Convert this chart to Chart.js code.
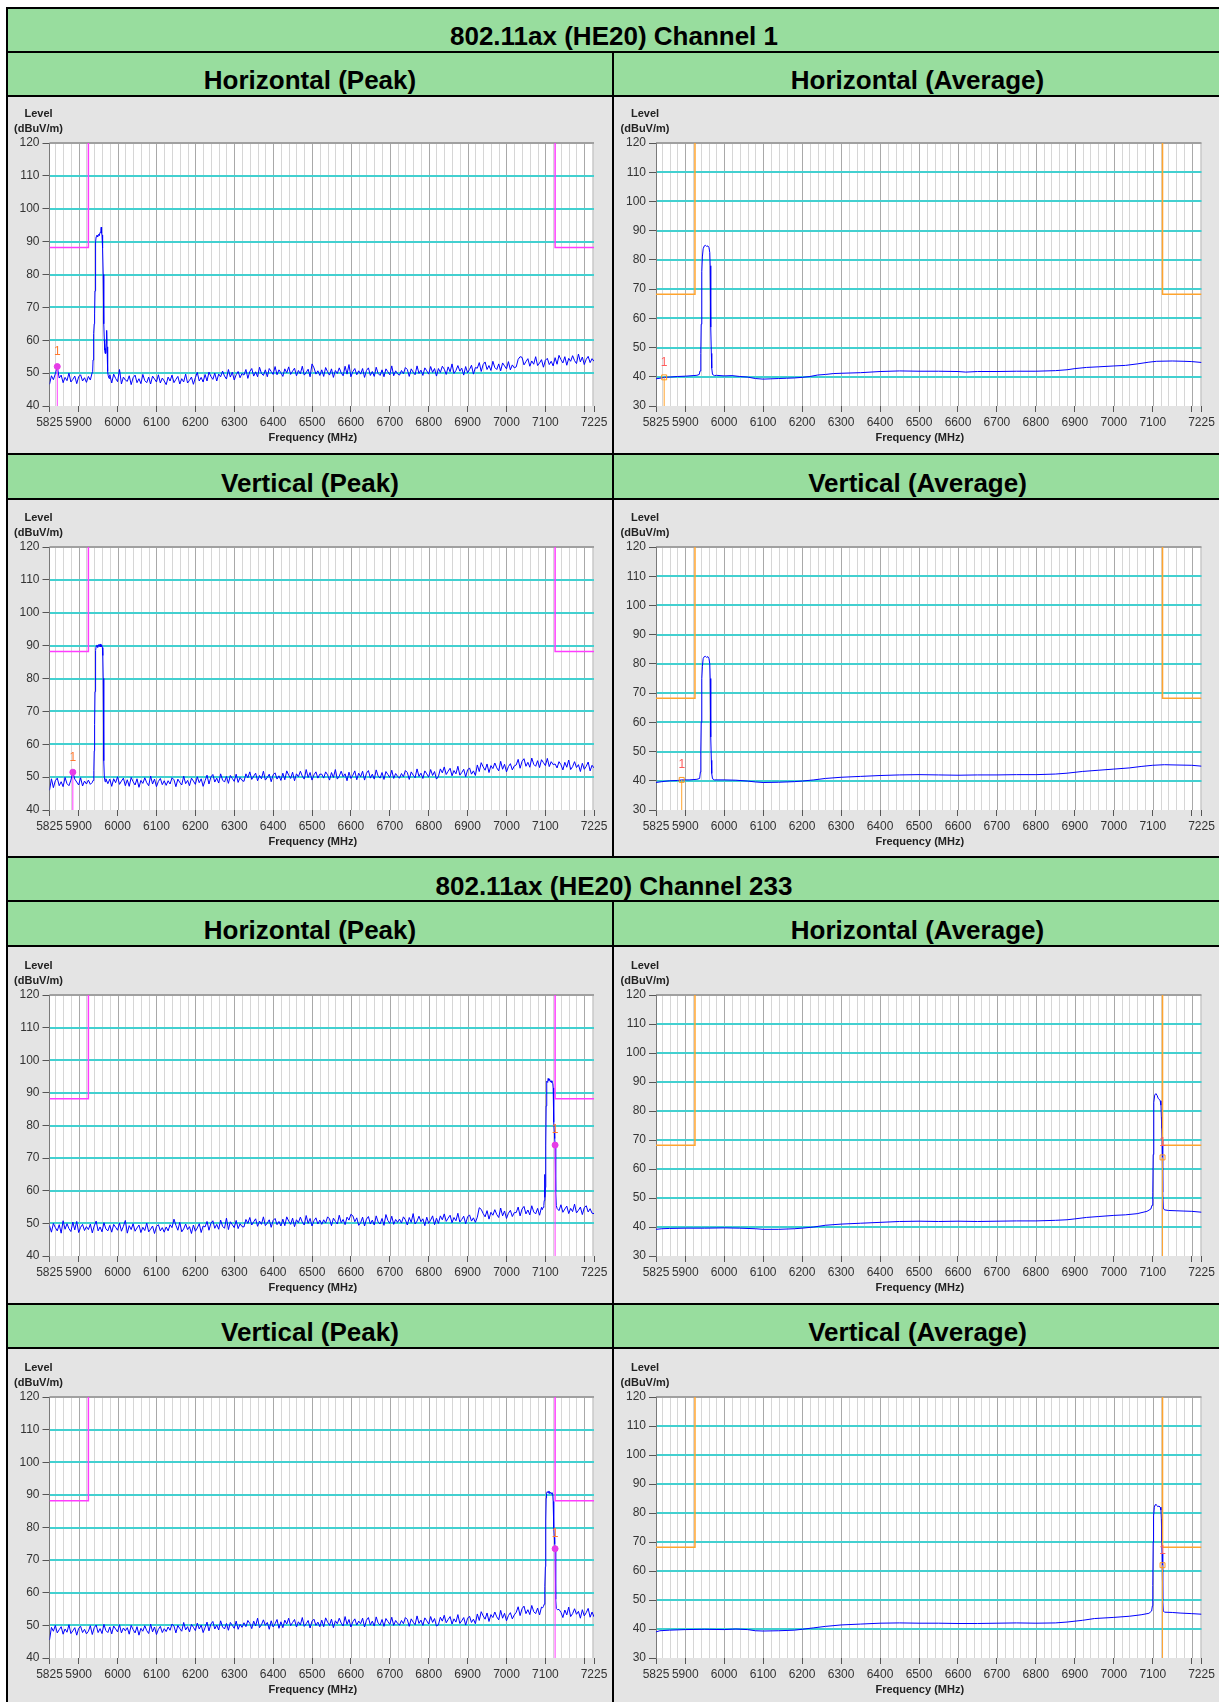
<!DOCTYPE html>
<html>
<head>
<meta charset="utf-8">
<script src="https://cdn.jsdelivr.net/npm/chart.js@4/dist/chart.umd.min.js"></script>
<style>
  html, body { margin: 0; padding: 0; background: #ffffff; }
  body { width: 1219px; height: 1702px; position: relative; overflow: hidden;
         font-family: "Liberation Sans", Arial, Helvetica, sans-serif; }
  .blk { position: absolute; background: #000000; }
  .grn { position: absolute; background: #98dd9e; }
  .gry { position: absolute; background: #e4e4e4; }
  .hd  { position: absolute; height: 30px; line-height: 30px; font-weight: bold; font-size: 26px;
         text-align: center; color: #000; white-space: nowrap; }
  canvas { position: absolute; }
</style>
</head>
<body>
<script>
// ---------------------------------------------------------------------------
// Sweep / axis definitions
// ---------------------------------------------------------------------------
const SWEEP_START = 5825;          // MHz, first sample of the 5 MHz sweeps
const SWEEP_STEP = 5;              // MHz between sweep samples
const X_MIN = 5825, X_MAX = 7225;
const X_TICKS = [5825, 5900, 6000, 6100, 6200, 6300, 6400, 6500, 6600, 6700, 6800, 6900, 7000, 7100, 7200, 7225];
const X_TICK_LABELS = ['5825', '5900', '6000', '6100', '6200', '6300', '6400', '6500', '6600', '6700', '6800', '6900', '7000', '7100', '', '7225'];
const PEAK_Y_MIN = 40, AVG_Y_MIN = 30, Y_MAX = 120;

// Limit lines (dBuV/m) and restricted band edges (MHz)
const PEAK_LIMIT = 88.2;
const AVG_LIMIT = 68.2;
const BAND_LOW = 5925, BAND_HIGH = 7125;

// ---------------------------------------------------------------------------
// Channel 1 — Horizontal, peak detector (5 MHz sweep, 5825..7225)
// ---------------------------------------------------------------------------
const H_PEAK_CH1 = [
  46.6,49.2,48.0,49.8,52.0,48.5,49.4,47.1,48.7,47.7,50.0,47.3,48.1,49.1,46.8,48.9,49.5,47.6,48.6,47.2,
  49.0,47.9,50.3,62.0,91.0,92.3,93.0,90.0,62.0,56.0,50.0,49.5,47.0,49.7,48.4,47.4,51.1,46.7,48.8,47.9,
  47.5,49.2,46.5,48.6,49.4,47.1,48.3,46.8,49.6,47.7,47.1,48.8,46.7,49.1,48.2,47.3,49.5,47.0,48.5,47.6,
  46.5,48.8,47.6,49.4,47.1,48.1,49.0,46.7,48.3,47.3,49.7,47.0,47.8,48.8,46.6,48.6,50.2,47.6,48.7,47.3,
  49.6,47.6,50.3,49.0,48.1,50.0,47.6,49.7,48.9,50.6,49.1,48.2,51.1,48.8,50.3,47.9,49.5,50.5,48.6,49.9,
  49.4,51.1,48.4,50.5,51.4,49.1,50.4,48.9,51.8,49.9,49.3,51.0,48.9,51.4,50.5,49.6,52.0,49.5,51.0,50.1,
  49.0,51.3,50.1,51.9,49.6,50.6,51.5,49.2,50.8,49.8,52.1,49.4,50.2,51.2,48.9,52.8,51.6,49.7,50.7,49.3,
  51.0,49.0,51.7,50.4,49.4,51.3,48.7,50.8,49.9,51.6,50.1,49.2,52.1,49.7,52.6,48.9,50.5,51.4,49.5,50.7,
  49.7,51.4,48.7,50.8,51.6,49.3,50.5,49.0,51.8,49.9,49.3,51.0,48.9,51.3,50.4,49.5,52.2,49.2,50.7,49.8,
  49.4,50.8,49.8,51.7,51.1,49.0,51.3,50.3,49.5,52.2,49.9,50.9,49.3,51.6,50.7,49.7,52.0,50.2,51.4,49.1,
  51.4,50.2,52.1,51.2,49.6,51.9,50.4,52.8,49.9,50.8,52.3,50.6,51.5,49.4,52.0,50.1,51.1,52.4,49.7,51.7,
  51.5,53.2,50.5,52.6,53.4,51.1,52.3,50.8,53.6,51.7,51.1,52.8,50.7,53.1,52.2,51.3,53.5,51.0,52.5,51.6,
  51.9,54.2,55.0,54.8,52.5,53.5,54.4,52.1,53.7,52.7,55.0,52.3,53.1,54.1,51.8,53.9,54.5,52.6,53.6,52.2,
  54.7,52.7,55.4,54.1,53.1,55.0,52.4,54.5,53.6,55.3,53.8,52.9,55.8,53.4,54.9,52.6,54.2,55.1,53.2,54.4,
  53.6
];
// fine samples across the emission [MHz, dBuV/m]
const H_PEAK_CH1_EMISSION = [
  [5936,50.5],[5937,54],[5938,58],[5939,62],[5940,65],[5941,68],[5942,75],[5943,84],[5944,90],[5945,91.5],
  [5947,92],[5949,91.4],[5951,92.2],[5953,91.8],[5955,92.8],[5957,93.4],[5958,94.4],[5959,92.6],[5960,92],
  [5961,91],[5962,88],[5963,80],[5964,70],[5965,65],[5966,60],[5967,57],[5968,56],[5969,57.5],[5970,56],
  [5971,59],[5972,63],[5973,58],[5974,53],[5975,50.5],[5976,49.2],[5978,48.4]
];
const H_PEAK_CH1_MARKER = [5845, 52.0];

// Channel 1 — Horizontal, average detector [MHz, dBuV/m]
const H_AVG_CH1 = [
  [5825,39.3],[5840,39.6],[5846,39.8],[5860,39.9],[5880,40.1],[5900,40.2],[5920,40.4],[5930,40.5],[5936,40.8],
  [5938,42],[5940,48],[5941,58],[5942,68],[5943,76],[5944,81],[5946,83.8],[5949,84.8],[5952,85],[5955,84.6],
  [5958,84.8],[5961,84.2],[5963,82.5],[5964,78],[5965,68],[5966,57],[5967,48],[5968,43],[5970,40.8],[5975,40.4],
  [5980,40.5],[6000,40.3],[6020,40.4],[6040,40.1],[6060,39.9],[6080,39.4],[6100,39.2],[6120,39.3],[6140,39.4],
  [6160,39.5],[6180,39.6],[6200,39.8],[6220,40.1],[6240,40.6],[6260,40.8],[6280,41.1],[6300,41.2],[6350,41.4],
  [6400,41.8],[6450,42.0],[6500,41.9],[6550,41.9],[6600,41.8],[6620,41.6],[6650,41.8],[6700,41.8],[6750,41.9],
  [6800,41.9],[6850,42.1],[6880,42.4],[6900,42.8],[6930,43.2],[6960,43.4],[7000,43.7],[7030,43.9],[7060,44.4],
  [7090,45.0],[7110,45.3],[7150,45.4],[7180,45.3],[7200,45.2],[7225,44.9]
];
const H_AVG_CH1_MARKER = [5846, 39.8];

// Channel 1 — Vertical, peak detector (5 MHz sweep)
const V_PEAK_CH1 = [
  46.0,49.5,46.8,48.9,49.7,47.4,48.6,47.1,49.9,48.0,47.4,49.1,51.5,49.4,48.5,47.6,49.8,47.3,48.8,47.9,
  49.1,47.8,48.4,55.0,89.5,90.0,90.0,89.8,60.0,49.5,48.0,49.4,47.2,49.5,48.3,50.1,47.8,48.8,49.7,47.4,
  49.2,47.2,49.9,48.6,47.6,49.5,46.9,49.0,48.1,49.8,48.3,47.4,50.3,47.9,49.4,47.1,48.7,49.6,47.7,48.9,
  47.5,48.9,47.9,49.8,49.2,47.1,49.4,48.4,47.6,50.3,48.0,49.0,47.4,49.7,48.8,47.8,50.1,48.3,49.5,47.2,
  48.9,50.6,47.9,50.0,50.8,48.5,49.7,48.2,51.0,49.1,48.5,50.2,48.1,50.5,49.6,48.7,50.9,48.4,49.9,49.0,
  48.7,51.0,49.8,51.6,49.3,50.3,51.2,48.9,50.5,49.5,51.8,49.1,49.9,50.9,48.6,50.7,51.3,49.4,50.4,49.0,
  51.2,49.2,51.9,50.6,49.6,51.5,48.9,51.0,50.1,51.8,50.3,49.4,52.3,49.9,51.4,49.1,50.7,51.6,49.7,50.9,
  50.9,49.7,51.6,50.7,49.1,51.4,49.9,52.3,49.4,50.3,51.8,50.1,51.0,48.9,51.5,49.6,50.6,51.9,49.2,51.2,
  50.1,51.8,49.1,51.2,52.0,49.7,50.9,49.4,52.2,50.3,49.7,51.4,49.3,51.7,50.8,49.9,52.1,49.6,51.1,50.2,
  49.7,51.1,50.1,52.0,51.4,49.3,51.6,50.6,49.8,52.5,50.2,51.2,49.6,51.9,51.0,50.0,52.3,50.5,51.7,49.4,
  50.2,52.5,51.3,53.1,50.8,51.8,52.7,50.4,52.0,51.0,53.3,50.6,51.4,52.4,50.1,52.2,52.8,50.9,51.9,50.5,
  53.7,51.7,54.4,53.1,52.1,54.0,51.4,53.5,52.6,54.3,52.8,51.9,54.8,52.4,53.9,51.6,53.2,54.1,52.2,53.4,
  53.7,55.4,52.7,54.8,55.6,53.3,54.5,53.0,55.8,53.9,53.3,55.0,52.9,55.3,54.4,53.5,55.7,53.2,54.7,53.8,
  54.0,52.8,54.7,53.8,52.2,54.5,53.0,55.2,52.3,53.2,54.7,52.9,53.8,51.7,54.2,52.4,53.3,54.6,51.9,53.6,
  52.8
];
const V_PEAK_CH1_EMISSION = [
  [5937,49],[5939,52],[5940,58],[5941,66],[5942,76],[5943,84],[5944,88.5],[5945,89.8],[5947,90.2],[5949,89.4],
  [5951,90.3],[5953,89.7],[5955,90.5],[5957,89.6],[5959,90.2],[5961,89.4],[5962,87],[5963,80],[5964,66],
  [5965,55],[5966,50],[5968,48.6]
];
const V_PEAK_CH1_MARKER = [5885, 51.5];

// Channel 1 — Vertical, average detector
const V_AVG_CH1 = [
  [5825,39.4],[5840,39.7],[5860,40.0],[5880,40.1],[5891,40.3],[5910,40.3],[5930,40.5],[5937,40.8],[5939,43],
  [5940,50],[5941,60],[5942,69],[5943,75],[5944,79],[5946,81.8],[5949,82.5],[5952,82.6],[5955,82.2],[5958,82.5],
  [5961,81.8],[5963,80],[5964,75],[5965,65],[5966,55],[5967,47],[5968,42.5],[5970,40.7],[5975,40.3],[6000,40.3],
  [6030,40.2],[6060,39.9],[6080,39.6],[6100,39.4],[6140,39.5],[6180,39.7],[6200,39.9],[6230,40.3],[6260,40.8],
  [6300,41.2],[6350,41.5],[6400,41.8],[6450,42.0],[6500,42.1],[6550,42.0],[6600,41.9],[6650,42.0],[6700,42.0],
  [6750,42.1],[6800,42.1],[6850,42.3],[6880,42.6],[6920,43.2],[6960,43.6],[7000,44.0],[7040,44.4],[7070,44.9],
  [7100,45.3],[7130,45.5],[7160,45.4],[7200,45.3],[7225,45.0]
];
const V_AVG_CH1_MARKER = [5891, 40.3];

// ---------------------------------------------------------------------------
// Channel 233 — Horizontal, peak detector (5 MHz sweep)
// ---------------------------------------------------------------------------
const H_PEAK_CH233 = [
  49.3,47.3,50.0,48.7,47.7,49.6,47.0,50.8,48.2,49.9,48.4,47.5,50.4,48.0,50.6,47.2,48.8,49.7,47.8,49.0,
  48.1,49.8,47.1,49.2,50.7,47.7,48.9,47.4,50.2,48.3,47.7,49.4,47.3,49.7,48.8,47.9,50.1,47.6,49.1,50.9,
  47.0,49.3,48.1,49.9,47.6,48.6,49.5,47.2,48.8,47.8,50.1,47.4,48.2,49.2,46.9,49.0,49.6,47.7,48.7,47.3,
  48.9,47.7,49.6,48.7,51.3,49.4,47.9,50.3,47.4,48.3,49.8,48.1,49.0,46.9,49.5,47.6,48.6,49.9,47.2,49.2,
  48.9,50.6,47.9,50.0,50.8,48.5,49.7,48.2,51.0,49.1,48.5,51.6,48.1,50.5,49.6,48.7,50.9,48.4,49.9,49.0,
  48.9,51.2,50.0,51.8,49.5,50.5,51.4,49.1,50.7,49.7,52.0,49.3,50.1,51.1,48.8,50.9,51.5,49.6,50.6,49.2,
  51.3,49.3,52.0,50.7,49.7,51.6,49.0,51.1,50.2,51.9,50.4,49.5,52.4,50.0,51.5,49.2,50.8,51.7,49.8,51.0,
  49.7,51.1,50.1,52.0,51.4,49.3,51.6,50.6,49.8,52.5,50.2,51.2,49.6,51.9,51.0,52.8,52.3,50.5,51.7,49.4,
  50.2,51.9,49.2,51.3,52.1,49.8,51.0,49.5,52.3,50.4,49.8,51.5,49.4,52.7,50.9,50.0,52.2,49.7,51.2,50.3,
  51.3,50.1,52.0,51.1,49.5,51.8,50.3,53.0,49.8,50.7,52.2,50.5,51.4,49.3,51.9,50.0,51.0,52.3,49.6,51.6,
  50.0,52.3,51.1,52.9,50.6,51.6,52.5,50.2,51.8,50.8,53.1,50.4,51.2,52.2,49.9,52.0,52.6,50.7,51.7,50.3,
  51.9,54.8,54.3,53.0,52.0,53.9,51.3,53.4,52.5,54.2,52.7,51.8,54.7,52.3,53.8,51.5,53.1,54.0,52.1,53.3,
  53.3,55.0,52.3,54.4,55.2,52.9,54.1,52.6,55.4,53.5,52.9,54.6,52.5,54.9,54.2,60.0,93.5,94.0,93.6,91.0,
  74.0,55.1,53.9,55.7,53.4,54.4,55.3,53.0,54.6,53.6,55.9,53.2,54.0,55.0,52.7,54.8,55.4,53.5,54.5,53.1,
  53.0
];
const H_PEAK_CH233_EMISSION = [
  [7092,54.2],[7094,54.9],[7096,55.5],[7097,57],[7098,65],[7099,58],[7100,61],[7101,74],[7102,86],[7103,92.5],
  [7104,93.6],[7106,93.2],[7107,94.4],[7109,93.8],[7111,94.2],[7113,93.3],[7115,93.7],[7117,93.1],[7119,92.9],
  [7120,91.5],[7121,86],[7122,81],[7123,78],[7124,76],[7125,74],[7126,67],[7127,60],[7128,55.5],[7130,54.6]
];
const H_PEAK_CH233_MARKER = [7125, 74.0];

// Channel 233 — Horizontal, average detector
const H_AVG_CH233 = [
  [5825,39.2],[5840,39.4],[5860,39.5],[5900,39.6],[5950,39.6],[6000,39.7],[6040,39.6],[6080,39.4],[6100,39.2],
  [6140,39.2],[6180,39.4],[6200,39.6],[6230,40.0],[6260,40.6],[6300,41.0],[6350,41.3],[6400,41.6],[6450,41.9],
  [6500,42.0],[6550,41.9],[6600,42.0],[6650,41.9],[6700,42.0],[6750,42.1],[6800,42.1],[6850,42.3],[6880,42.5],
  [6900,42.8],[6930,43.3],[6960,43.6],[7000,44.0],[7030,44.2],[7060,44.6],[7085,45.4],[7095,46.2],[7098,47.5],
  [7100,52],[7101,65],[7102,78],[7103,83],[7105,85.5],[7108,86],[7111,85.4],[7114,84.3],[7117,84],[7119,83.5],
  [7121,82],[7122,78],[7123,74],[7124,70],[7125,64],[7126,52],[7127,46.5],[7130,45.9],[7140,45.7],[7160,45.6],
  [7180,45.5],[7200,45.4],[7225,45.1]
];
const H_AVG_CH233_MARKER = [7125, 64.0];

// Channel 233 — Vertical, peak detector (5 MHz sweep)
const V_PEAK_CH233 = [
  45.5,49.4,48.2,50.0,47.7,48.7,49.6,47.3,48.9,47.9,50.2,47.5,48.3,49.3,47.0,49.1,49.7,47.8,48.8,47.4,
  48.2,49.9,47.2,49.3,50.1,47.8,49.0,47.5,50.3,48.4,47.8,49.5,47.4,49.8,48.9,48.0,50.2,47.7,49.2,48.3,
  49.3,47.3,50.0,48.7,47.7,49.6,47.0,49.1,48.2,49.9,48.4,47.5,50.4,48.0,49.5,47.2,48.8,49.7,47.8,49.0,
  48.1,49.5,48.5,50.4,49.8,47.7,50.0,49.0,48.2,50.9,48.6,49.6,48.0,50.3,49.4,48.4,50.7,48.9,50.1,47.8,
  49.3,51.0,48.3,50.4,51.2,48.9,50.1,48.6,51.4,49.5,48.9,50.6,48.5,50.9,50.0,49.1,51.3,48.8,50.3,49.4,
  50.8,49.6,51.5,50.6,49.0,51.3,49.8,52.2,49.3,50.2,51.7,50.0,50.9,48.8,51.4,49.5,50.5,51.8,49.1,51.1,
  49.3,51.6,50.4,52.2,49.9,50.9,51.8,49.5,51.1,50.1,52.4,49.7,50.5,51.5,49.2,51.3,51.9,50.0,51.0,49.6,
  51.6,49.6,52.3,51.0,50.0,51.9,49.3,51.4,50.5,52.2,50.7,49.8,52.7,50.3,51.8,49.5,51.1,52.0,50.1,51.3,
  50.5,52.2,49.5,51.6,52.4,50.1,51.3,49.8,52.6,50.7,50.1,51.8,49.7,52.1,51.2,50.3,52.5,50.0,51.5,50.6,
  50.1,51.5,50.5,52.4,51.8,49.7,52.0,51.0,50.2,52.9,50.6,51.6,50.0,52.3,51.4,50.4,52.7,50.9,52.1,49.8,
  50.2,52.5,51.3,53.1,50.8,51.8,52.7,50.4,52.0,51.0,53.3,50.6,51.4,52.4,50.1,52.2,52.8,50.9,51.9,50.5,
  53.5,51.5,54.2,52.9,51.9,53.8,51.2,53.3,52.4,54.1,52.6,51.7,54.6,52.2,53.7,51.4,53.0,53.9,52.0,53.2,
  54.0,55.7,53.0,55.1,55.9,53.6,54.8,53.3,56.1,54.2,53.6,55.3,53.2,55.6,54.7,68.0,91.0,90.6,90.3,88.0,
  73.5,55.6,54.9,54.0,52.4,54.7,53.2,55.6,52.7,53.6,55.1,53.4,54.3,52.2,54.8,52.9,53.9,55.2,52.5,54.1,
  52.6
];
const V_PEAK_CH233_EMISSION = [
  [7093,55.4],[7095,55.8],[7097,56.5],[7098,58.5],[7099,62],[7100,68],[7101,82],[7102,89],[7103,90.5],[7105,91],
  [7107,90.6],[7109,91.2],[7111,90.4],[7113,90.8],[7115,90.3],[7117,90.7],[7119,90],[7120,88],[7121,84],[7122,80],
  [7123,77],[7124,75],[7125,73.5],[7126,65],[7127,58],[7128,55.2],[7131,54.8]
];
const V_PEAK_CH233_MARKER = [7125, 73.5];

// Channel 233 — Vertical, average detector
const V_AVG_CH233 = [
  [5825,39.0],[5835,39.4],[5860,39.6],[5900,39.8],[5950,39.9],[6000,39.8],[6030,40.0],[6060,39.8],[6080,39.4],
  [6100,39.3],[6140,39.4],[6180,39.6],[6200,39.9],[6230,40.4],[6260,40.9],[6300,41.4],[6350,41.7],[6400,42.0],
  [6450,42.1],[6500,42.0],[6550,42.0],[6600,41.9],[6650,41.9],[6700,42.0],[6750,42.1],[6800,42.0],[6850,42.1],
  [6880,42.4],[6920,43.0],[6950,43.6],[7000,44.0],[7040,44.4],[7070,44.9],[7090,45.4],[7097,46.2],[7099,48],
  [7100,55],[7101,70],[7102,79],[7104,82],[7106,82.8],[7108,83],[7110,82.6],[7113,82.2],[7116,82.4],[7119,82],
  [7121,81],[7122,78],[7123,70],[7124,66],[7125,62],[7126,50],[7127,46.2],[7130,45.8],[7150,45.7],[7170,45.5],
  [7200,45.3],[7225,45.1]
];
const V_AVG_CH233_MARKER = [7125, 62.0];

// ---------------------------------------------------------------------------
// Page geometry
// ---------------------------------------------------------------------------
const FONT = '"Liberation Sans", Arial, Helvetica, sans-serif';
const RULE_Y = [7, 51, 95, 453, 498, 856, 900, 945, 1303, 1347];
const GREEN_ROWS = [[9, 51], [53, 95], [455, 498], [858, 900], [902, 945], [1305, 1347]];
const ROWS = [
  { top: 97,   h: 356 },
  { top: 501,  h: 356 },
  { top: 949,  h: 354 },
  { top: 1351, h: 354 }
];
const COLS = [
  { left: 8,   w: 604, yW: 41.5, padR: 18 },
  { left: 614, w: 605, yW: 42,   padR: 17.5 }
];
const PLOT_TOP = 46, X_AXIS_H = 47;

function box(cls, l, t, w, h) {
  const d = document.createElement('div');
  d.className = cls;
  Object.assign(d.style, { left: l + 'px', top: t + 'px', width: w + 'px', height: h + 'px' });
  document.body.appendChild(d);
  return d;
}
function heading(text, cx, baseline) {
  const d = box('hd', cx - 320, baseline - 24, 640, 30);
  d.textContent = text;
}

box('gry', 8, 9, 1213, 1693);
GREEN_ROWS.forEach(([a, b]) => box('grn', 8, a, 1213, b - a));
RULE_Y.forEach(y => box('blk', 6, y, 1215, 2));
box('blk', 6, 7, 2, 1695);
box('blk', 612, 51, 2, 807);
box('blk', 612, 900, 2, 802);

heading('802.11ax (HE20) Channel 1', 614, 45);
heading('802.11ax (HE20) Channel 233', 614, 895);
const SUB_BASE = [88.5, 491.5, 938.5, 1340.5];
const SUB_TEXT = [['Horizontal (Peak)', 'Horizontal (Average)'], ['Vertical (Peak)', 'Vertical (Average)']];
SUB_BASE.forEach((b, r) => {
  heading(SUB_TEXT[r % 2][0], 310, b);
  heading(SUB_TEXT[r % 2][1], 917.5, b);
});

// ---------------------------------------------------------------------------
// Trace assembly helpers
// ---------------------------------------------------------------------------
function sweepTrace(samples, emission) {
  const lo = emission[0][0], hi = emission[emission.length - 1][0];
  const pts = [];
  samples.forEach((v, i) => {
    const f = SWEEP_START + i * SWEEP_STEP;
    if (f < lo || f > hi) pts.push({ x: f, y: v });
  });
  emission.forEach(([f, v]) => pts.push({ x: f, y: v }));
  return pts.sort((a, b) => a.x - b.x);
}
function pairTrace(pairs) { return pairs.map(([f, v]) => ({ x: f, y: v })); }

// ---------------------------------------------------------------------------
// Chart factory
// ---------------------------------------------------------------------------
function makeChart(p) {
  const col = COLS[p.col], row = ROWS[p.row];
  const cv = document.createElement('canvas');
  cv.width = col.w; cv.height = row.h;
  Object.assign(cv.style, { left: col.left + 'px', top: row.top + 'px', width: col.w + 'px', height: row.h + 'px' });
  document.body.appendChild(cv);

  const peak = p.kind === 'peak';
  const yMin = peak ? PEAK_Y_MIN : AVG_Y_MIN;
  const limit = peak ? PEAK_LIMIT : AVG_LIMIT;
  const limitColor = peak ? '#ff3cff' : '#ffa42e';
  const markColor = peak ? '#ff3cff' : '#ffa42e';
  const labelColor = peak ? '#ff7a30' : '#ff5c5c';
  const [mx, my] = p.marker;

  const frame = {
    id: 'frame' + p.row + p.col,
    beforeDraw(chart) {
      const { ctx, chartArea: a, scales: { x, y } } = chart;
      ctx.save();
      ctx.fillStyle = '#ffffff';
      ctx.fillRect(a.left, a.top, a.width, a.height);
      ctx.lineWidth = 1;
      // frequency grid: 20 MHz fine lines, 100 MHz coarse lines
      for (let f = 5840; f <= 7220; f += 20) {
        const px = Math.round(x.getPixelForValue(f)) + 0.5;
        ctx.strokeStyle = (f % 100 === 0) ? '#a9a9a9' : '#d6d6d6';
        ctx.beginPath(); ctx.moveTo(px, a.top); ctx.lineTo(px, a.bottom); ctx.stroke();
      }
      const rx = Math.round(x.getPixelForValue(X_MAX)) - 0.5;
      ctx.strokeStyle = '#cfcfcf';
      ctx.beginPath(); ctx.moveTo(rx, a.top); ctx.lineTo(rx, a.bottom); ctx.stroke();
      // level grid
      ctx.strokeStyle = '#42d0d0';
      ctx.lineWidth = 2;
      for (let v = yMin + 10; v < Y_MAX; v += 10) {
        const py = Math.round(y.getPixelForValue(v));
        ctx.beginPath(); ctx.moveTo(a.left, py); ctx.lineTo(a.right, py); ctx.stroke();
      }
      // top frame
      ctx.strokeStyle = '#a0a0a0';
      ctx.lineWidth = 2;
      ctx.beginPath(); ctx.moveTo(a.left, a.top); ctx.lineTo(a.right, a.top); ctx.stroke();
      ctx.restore();
    },
    afterDatasetsDraw(chart) {
      const { ctx, scales: { x, y } } = chart;
      ctx.save();
      ctx.font = '12px ' + FONT;
      ctx.fillStyle = labelColor;
      ctx.textAlign = 'center';
      ctx.textBaseline = 'middle';
      ctx.fillText('1', x.getPixelForValue(mx), y.getPixelForValue(my) - 15);
      ctx.restore();
    },
    afterDraw(chart) {
      const { ctx, chartArea: a } = chart;
      ctx.save();
      ctx.font = 'bold 11px ' + FONT;
      ctx.fillStyle = '#222222';
      ctx.textAlign = 'center';
      ctx.textBaseline = 'middle';
      ctx.fillText('Level', a.left - 11, a.top - 29);
      ctx.fillText('(dBuV/m)', a.left - 11, a.top - 14);
      ctx.fillText('Frequency (MHz)', a.left + a.width / 2 - 9, a.bottom + 31.5);
      ctx.restore();
    }
  };

  return new Chart(cv, {
    type: 'line',
    data: {
      datasets: [
        { data: p.trace, borderColor: '#0000ff', borderWidth: 1, pointRadius: 0, tension: 0, order: 4 },
        { data: [{ x: X_MIN, y: limit }, { x: BAND_LOW, y: limit }, { x: BAND_LOW, y: Y_MAX }],
          borderColor: limitColor, borderWidth: 1.5, pointRadius: 0, order: 3 },
        { data: [{ x: BAND_HIGH, y: Y_MAX }, { x: BAND_HIGH, y: limit }, { x: X_MAX, y: limit }],
          borderColor: limitColor, borderWidth: 1.5, pointRadius: 0, order: 3 },
        { data: [{ x: mx, y: yMin }, { x: mx, y: my }], borderColor: markColor, borderWidth: 1, pointRadius: 0, order: 2 },
        { data: [{ x: mx, y: my }], showLine: false, pointStyle: peak ? 'circle' : 'rect',
          pointRadius: peak ? 3 : 3.5, borderWidth: 1,
          pointBackgroundColor: peak ? '#e63ce6' : 'rgba(0,0,0,0)',
          pointBorderColor: peak ? '#e63ce6' : '#ff9a20', order: 1 }
      ]
    },
    options: {
      responsive: false, animation: false, devicePixelRatio: 1,
      layout: { padding: { top: PLOT_TOP, right: col.padR, left: 0, bottom: 0 } },
      plugins: { legend: { display: false }, tooltip: { enabled: false } },
      scales: {
        x: {
          type: 'linear', min: X_MIN, max: X_MAX,
          afterBuildTicks: s => { s.ticks = X_TICKS.map(v => ({ value: v })); },
          afterFit: s => { s.height = X_AXIS_H; },
          ticks: { autoSkip: false, maxRotation: 0, minRotation: 0, padding: 3, color: '#333333',
                   font: { family: FONT, size: 12 }, callback: (v, i) => X_TICK_LABELS[i] },
          grid: { drawOnChartArea: false, drawTicks: true, tickLength: 6, tickColor: '#555555', tickWidth: 1 },
          border: { display: false }
        },
        y: {
          min: yMin, max: Y_MAX,
          afterFit: s => { s.width = col.yW; },
          ticks: { stepSize: 10, padding: 3, color: '#333333', font: { family: FONT, size: 12 } },
          grid: { drawOnChartArea: false, drawTicks: true, tickLength: 7, tickColor: '#555555', tickWidth: 1 },
          border: { display: true, color: '#7a7a7a', width: 1 }
        }
      }
    },
    plugins: [frame]
  });
}

const PANELS = [
  { row: 0, col: 0, kind: 'peak', trace: sweepTrace(H_PEAK_CH1, H_PEAK_CH1_EMISSION), marker: H_PEAK_CH1_MARKER },
  { row: 0, col: 1, kind: 'avg',  trace: pairTrace(H_AVG_CH1), marker: H_AVG_CH1_MARKER },
  { row: 1, col: 0, kind: 'peak', trace: sweepTrace(V_PEAK_CH1, V_PEAK_CH1_EMISSION), marker: V_PEAK_CH1_MARKER },
  { row: 1, col: 1, kind: 'avg',  trace: pairTrace(V_AVG_CH1), marker: V_AVG_CH1_MARKER },
  { row: 2, col: 0, kind: 'peak', trace: sweepTrace(H_PEAK_CH233, H_PEAK_CH233_EMISSION), marker: H_PEAK_CH233_MARKER },
  { row: 2, col: 1, kind: 'avg',  trace: pairTrace(H_AVG_CH233), marker: H_AVG_CH233_MARKER },
  { row: 3, col: 0, kind: 'peak', trace: sweepTrace(V_PEAK_CH233, V_PEAK_CH233_EMISSION), marker: V_PEAK_CH233_MARKER },
  { row: 3, col: 1, kind: 'avg',  trace: pairTrace(V_AVG_CH233), marker: V_AVG_CH233_MARKER }
];
PANELS.forEach(makeChart);
</script>
</body>
</html>
